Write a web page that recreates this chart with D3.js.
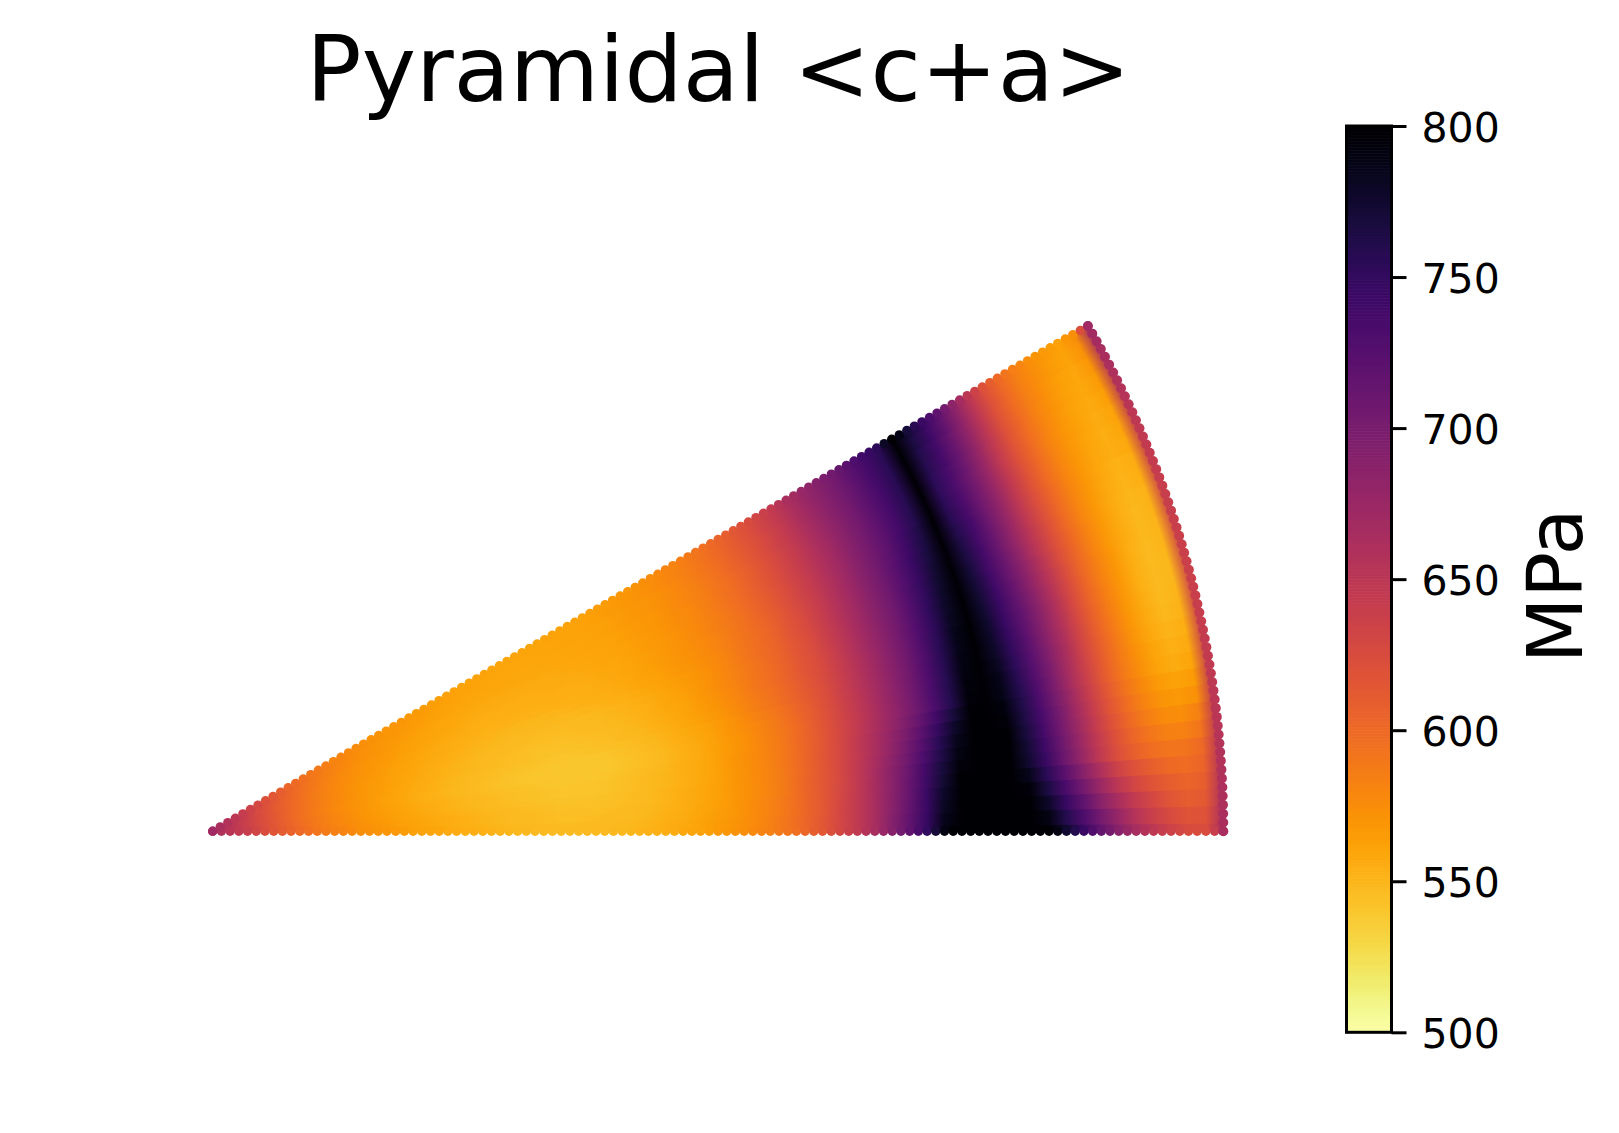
<!DOCTYPE html>
<html><head><meta charset="utf-8">
<style>html,body{margin:0;padding:0;background:#fff}svg{display:block}text{font-family:"DejaVu Sans";fill:#000}</style>
<script src="https://cdnjs.cloudflare.com/ajax/libs/d3/7.9.0/d3.min.js"></script>
</head><body><svg id="c" width="1619" height="1133"></svg>
<script>
const chartTitle = "Pyramidal <c+a>";
const colorbarLabel = "MPa";
const colorbarTicks = [500,550,600,650,700,750,800];
const colorDomain = [500,800];
const angleMax = 30;
// Values (MPa): one row per degree, 59 radial samples per row.
// Each row is one wedge whose radial gradient has these samples as its colour stops.
const fieldRows = [
[665,652,640,625,612,600,591,584,578,573,569,565,562,559,556,554,552,550,549,548,547,547,548,549,550,552,555,558,562,567,572,578,584,592,602,614,630,646,665,690,718,750,790,825,850,865,855,830,805,775,745,715,688,665,648,635,626,625,662],
[665,652,640,625,612,600,591,583,577,572,568,564,561,558,555,553,551,549,548,547,546,546,547,548,549,551,554,557,561,566,571,577,584,592,602,614,630,646,665,690,717,748,786,820,845,860,847,818,790,760,732,702,676,654,638,626,618,619,660],
[665,652,639,624,611,599,590,583,577,572,567,563,560,557,554,552,550,548,547,546,545,545,546,547,548,550,553,556,560,565,570,576,583,591,601,613,629,646,664,688,715,746,782,815,840,852,838,806,778,747,718,688,663,643,628,617,610,613,658],
[665,652,639,624,611,599,590,582,576,571,567,563,560,557,554,552,550,548,547,546,545,545,545,546,547,549,552,555,559,564,570,576,583,591,601,613,628,645,663,687,713,744,778,808,833,845,830,795,766,735,705,675,650,631,618,609,604,608,656],
[665,652,638,623,610,598,589,582,576,570,566,562,559,556,553,551,549,547,546,545,544,544,544,545,546,548,551,554,558,563,569,575,582,590,601,613,627,644,663,686,711,741,773,802,826,838,820,785,755,723,692,662,637,620,608,600,598,604,654],
[665,652,638,623,610,598,589,581,575,570,565,561,558,555,552,550,548,546,545,544,543,543,543,544,546,548,551,554,558,563,569,575,582,590,601,613,626,643,662,684,708,738,768,795,820,830,812,775,745,712,680,650,625,608,598,592,592,600,652],
[665,652,638,623,610,598,588,581,575,570,565,561,557,554,551,549,547,545,544,543,542,542,542,543,545,547,550,553,557,562,568,574,582,590,600,612,626,642,660,681,704,732,762,790,815,827,806,772,742,709,677,647,622,604,592,584,583,592,650],
[665,651,638,623,609,598,588,580,574,569,564,560,557,554,551,549,547,545,544,543,542,542,542,543,545,547,550,553,557,562,568,574,582,590,600,612,625,641,658,678,700,726,756,785,810,824,800,769,739,706,674,644,619,600,586,577,575,584,649],
[665,651,637,622,609,597,588,580,574,569,564,560,556,553,550,548,546,544,543,542,541,541,541,542,544,546,549,553,557,562,568,574,581,589,599,611,624,640,656,675,695,720,749,778,805,821,796,766,736,704,671,641,616,597,582,571,567,573,647],
[665,651,637,622,608,597,587,579,573,568,563,559,555,552,549,547,545,543,542,541,540,540,540,541,543,545,548,552,556,561,567,573,581,589,599,610,623,638,654,672,691,713,740,769,800,818,792,763,733,701,668,638,613,593,578,566,561,566,646],
[665,651,637,622,608,597,587,579,573,568,563,559,555,552,549,547,545,543,542,541,540,540,540,541,543,545,548,552,556,561,567,573,581,589,598,609,622,637,652,669,687,707,731,760,795,815,788,760,730,698,665,635,610,590,574,562,556,560,644],
[665,651,637,622,608,597,587,579,573,568,563,559,556,553,550,548,546,544,543,542,541,541,541,542,544,546,549,553,557,562,568,574,582,590,599,610,622,637,652,669,687,707,731,759,793,813,786,757,727,696,664,634,609,589,573,560,553,557,643],
[666,651,637,622,608,597,587,579,573,568,564,560,556,553,550,548,546,545,544,543,542,542,543,544,545,547,550,554,558,563,569,576,584,591,600,611,623,638,652,669,687,707,730,758,791,811,783,754,724,694,663,633,608,588,571,558,551,555,641],
[666,652,638,623,609,598,588,580,574,569,564,560,557,554,551,549,547,546,545,544,543,543,544,545,547,549,552,556,560,565,571,578,586,593,602,612,623,638,653,669,687,706,730,757,789,809,780,751,722,692,662,632,607,587,570,557,549,552,640],
[666,652,638,623,609,598,588,580,574,569,565,561,557,554,552,550,548,546,545,544,544,544,545,546,548,550,553,557,561,566,572,579,587,594,603,613,624,638,653,669,687,706,729,756,787,807,778,748,720,691,661,631,606,586,569,556,548,551,639],
[666,652,638,623,609,598,588,580,574,569,565,561,558,555,552,550,548,547,546,545,545,545,546,547,549,551,554,558,562,567,573,580,588,595,604,614,624,638,653,669,687,706,729,755,785,805,777,745,718,690,660,630,605,585,568,555,547,550,638],
[666,652,638,623,609,598,588,581,575,570,565,562,559,556,553,551,549,548,547,546,546,546,547,548,550,552,555,559,563,568,574,581,589,596,604,614,624,638,654,670,687,706,728,753,782,803,775,744,716,688,658,628,604,584,568,555,548,550,639],
[666,652,638,623,609,598,589,581,575,570,566,562,559,556,554,552,550,549,548,547,547,547,548,549,551,553,556,560,564,569,575,581,589,596,604,614,625,639,654,670,687,705,727,752,780,801,773,742,714,685,655,627,603,584,568,555,548,551,639],
[667,653,639,624,610,599,589,581,575,570,566,563,560,557,555,553,551,550,549,549,549,549,550,551,553,555,558,561,565,570,575,582,590,597,604,614,625,639,654,670,688,705,726,750,777,800,771,741,712,683,653,625,602,583,567,556,549,551,639],
[667,653,639,624,610,599,590,582,576,571,567,563,560,558,556,554,552,551,550,550,550,551,552,553,555,557,560,563,567,571,576,582,590,597,604,615,626,640,655,671,688,705,726,749,775,799,769,739,710,680,650,624,601,583,567,556,549,552,640],
[667,653,639,624,610,599,590,582,576,571,567,564,561,558,556,555,553,552,552,552,552,553,553,554,556,558,561,564,568,572,577,583,590,597,604,615,626,640,655,671,688,705,725,747,772,798,767,738,708,678,648,622,600,582,567,556,550,552,640],
[667,653,639,624,610,599,590,583,577,572,568,565,562,559,557,556,554,553,553,553,553,554,554,555,557,559,562,565,569,573,577,583,590,597,605,616,627,640,655,670,688,704,724,745,769,798,764,736,708,678,647,621,599,582,567,557,551,554,642],
[667,653,639,624,611,600,591,583,577,572,569,566,563,560,558,557,555,554,554,554,554,555,555,556,558,559,562,565,569,573,578,584,590,597,606,617,628,641,655,670,688,704,722,743,766,798,761,737,707,677,646,620,599,582,568,558,552,556,645],
[668,654,640,625,611,600,591,584,578,573,570,567,564,561,559,558,556,555,555,555,555,556,556,557,559,560,563,566,569,573,578,584,590,598,606,617,628,641,656,671,688,703,721,741,763,799,757,735,706,677,645,619,598,582,569,559,554,558,647],
[668,654,640,625,612,601,592,584,578,573,570,567,564,562,560,559,557,556,556,556,556,556,557,558,560,561,563,566,570,574,578,584,591,598,607,618,629,642,656,671,688,703,720,739,760,799,755,733,706,676,645,619,598,582,569,560,555,560,650],
[668,654,640,625,612,601,592,585,579,574,571,568,565,563,560,559,558,557,557,557,557,557,558,559,560,562,564,567,570,574,578,584,591,598,607,618,630,642,657,672,688,703,720,737,758,800,754,732,706,676,643,618,598,582,570,561,556,562,652],
[668,654,641,626,613,602,593,586,580,575,572,569,566,564,562,560,559,558,558,558,558,558,559,560,561,562,564,567,570,574,579,584,591,598,607,618,630,642,658,673,688,703,720,737,757,801,755,734,708,678,645,618,598,583,571,562,557,564,656],
[669,655,641,626,613,602,593,586,580,576,572,569,567,565,563,561,560,559,559,559,558,559,559,560,561,563,565,568,571,575,579,584,591,599,608,619,631,643,659,674,689,703,721,737,757,802,758,737,710,680,647,619,599,583,572,563,558,566,659],
[669,655,641,627,614,603,594,587,581,577,573,570,568,566,564,562,561,560,560,559,559,559,560,561,562,563,565,568,571,575,579,585,592,599,609,619,631,644,660,675,689,704,721,738,756,803,761,740,712,681,648,619,599,584,573,564,559,569,663],
[670,656,642,627,614,603,594,587,581,577,573,571,568,566,565,563,562,561,560,560,559,560,560,561,562,564,566,568,572,576,580,585,592,600,609,620,632,645,661,676,690,704,722,739,756,804,765,743,716,683,649,620,600,584,574,566,561,572,666],
[670,656,642,628,615,604,595,588,582,578,574,571,569,567,566,564,563,562,561,560,560,560,561,562,563,564,566,569,572,576,580,585,592,600,610,620,632,645,662,677,690,704,722,740,755,805,770,745,718,685,650,620,600,585,575,567,563,575,670]
];
const bottomEdge = [665,658,652,646,640,632,625,618,612,606,600,595,591,587,584,581,578,575,573,571,569,567,565,563,562,560,559,557,556,555,554,553,552,551,550,549,549,548,548,547,547,547,547,547,548,548,549,549,550,551,552,553,555,556,558,560,562,564,567,569,572,575,578,581,584,588,592,597,602,608,614,622,630,638,646,655,665,677,690,704,718,734,750,770,790,808,825,838,850,858,865,860,855,842,830,818,805,790,775,760,745,730,715,702,688,676,665,656,648,641,635,630,626,625,625,640,662];
const topEdge = [670,663,656,649,642,635,628,621,615,609,604,599,595,591,588,585,582,580,578,576,574,572,571,570,569,568,567,566,566,565,564,563,563,562,562,561,561,560,560,560,560,560,560,560,561,561,562,562,563,563,564,565,566,567,569,570,572,574,576,578,580,582,585,588,592,596,600,605,610,615,620,626,632,638,645,653,662,669,677,683,690,697,704,713,722,731,740,747,755,780,805,788,770,757,745,731,718,702,685,667,650,635,620,610,600,592,585,580,575,571,567,565,563,569,575,622,670];
const outerEdge = [664,663,662,661,660,660,659,658,657,656,655,654,653,652,651,650,649,648,647,646,645,644,643,642,641,641,640,639,639,638,638,638,638,638,639,639,639,640,640,640,640,641,642,643,644,645,646,647,648,650,652,654,656,658,660,662,664,665,667,669,670];

const svg = d3.select("#c");
const O = {x:212.7, y:831.3}, R = 1010.6;
const color = d3.scaleSequential(t => d3.interpolateInferno(1 - t)).domain(colorDomain).clamp(true);
const nCols = fieldRows[0].length, nRows = fieldRows.length;
const offset = d3.scaleLinear().domain([0, nCols - 1]).range([0, 1]);
const aRow = d3.scaleLinear().domain([0, nRows - 1]).range([0, angleMax]);
const toA = d => (90 - d) * Math.PI / 180;
const arc = d3.arc().innerRadius(0).outerRadius(R);
const plot = svg.append("g").attr("transform", `translate(${O.x},${O.y})`);

const defs = svg.append("defs");
const grads = defs.selectAll("radialGradient").data(fieldRows).join("radialGradient")
  .attr("id", (d, j) => "row" + j)
  .attr("gradientUnits", "userSpaceOnUse")
  .attr("cx", 0).attr("cy", 0).attr("fx", 0).attr("fy", 0).attr("r", R);
grads.selectAll("stop").data(d => d).join("stop")
  .attr("offset", (v, i) => offset(i)).attr("stop-color", v => color(v));

// Backing sector, so that no white shows through the seams where the wedges meet at the apex.
plot.append("path")
  .attr("d", arc({startAngle: toA(angleMax), endAngle: toA(0)}))
  .attr("fill", `url(#row${Math.floor(nRows / 2)})`);
plot.selectAll("path.wedge").data(fieldRows).join("path").attr("class","wedge")
  .attr("d", (d, j) => arc({
    startAngle: toA(Math.min(angleMax, aRow(j + 0.56))),
    endAngle: toA(Math.max(0, aRow(j - 0.56)))
  }))
  .attr("fill", (d, j) => `url(#row${j})`);

const rEdge = d3.scaleLinear().domain([0, bottomEdge.length - 1]).range([0, R]);
const dots = [
  ...bottomEdge.map((v, k) => ({r: rEdge(k), a: 0, v, s: 4.7})),
  ...topEdge.map((v, k) => ({r: rEdge(k), a: angleMax, v, s: 4.7})),
  ...outerEdge.map((v, k) => ({r: R, a: k * angleMax / (outerEdge.length - 1), v, s: 5}))
];
plot.selectAll("circle.edge").data(dots).join("circle").attr("class","edge")
  .attr("cx", d => d.r * Math.cos(d.a * Math.PI / 180))
  .attr("cy", d => -d.r * Math.sin(d.a * Math.PI / 180))
  .attr("r", d => d.s).attr("fill", d => color(d.v));

svg.append("text").attr("x", 718.5).attr("y", 101).attr("text-anchor","middle")
  .attr("font-size", 91.7).text(chartTitle);

const y = d3.scaleLinear().domain(colorDomain).range([1032.3, 126]);
const bar = svg.append("g");
const levels = d3.range(colorDomain[0], colorDomain[1], 1);
bar.selectAll("rect").data(levels).join("rect")
  .attr("x", 1345).attr("width", 48)
  .attr("y", d => y(d + 1)).attr("height", d => y(d) - y(d + 1) + 0.6)
  .attr("fill", d => color(d + 0.5));
bar.append("rect").attr("x", 1346.5).attr("y", y(800)).attr("width", 45).attr("height", y(500) - y(800))
  .attr("fill","none").attr("stroke","#000").attr("stroke-width",3);
const axis = d3.axisRight(y).tickValues(colorbarTicks).tickSize(15).tickPadding(15).tickFormat(d3.format("d"));
const ag = svg.append("g").attr("transform","translate(1391.5,0)").call(axis);
ag.select(".domain").remove();
ag.selectAll("line").attr("stroke","#000").attr("stroke-width",3);
ag.selectAll("text").attr("font-size",41).attr("font-family","DejaVu Sans").attr("fill","#000").attr("y",0).attr("dy","0.37em");
svg.append("text").attr("transform","translate(1582,586) rotate(-90)").attr("text-anchor","middle")
  .attr("font-size",76).text(colorbarLabel);
</script></body></html>
